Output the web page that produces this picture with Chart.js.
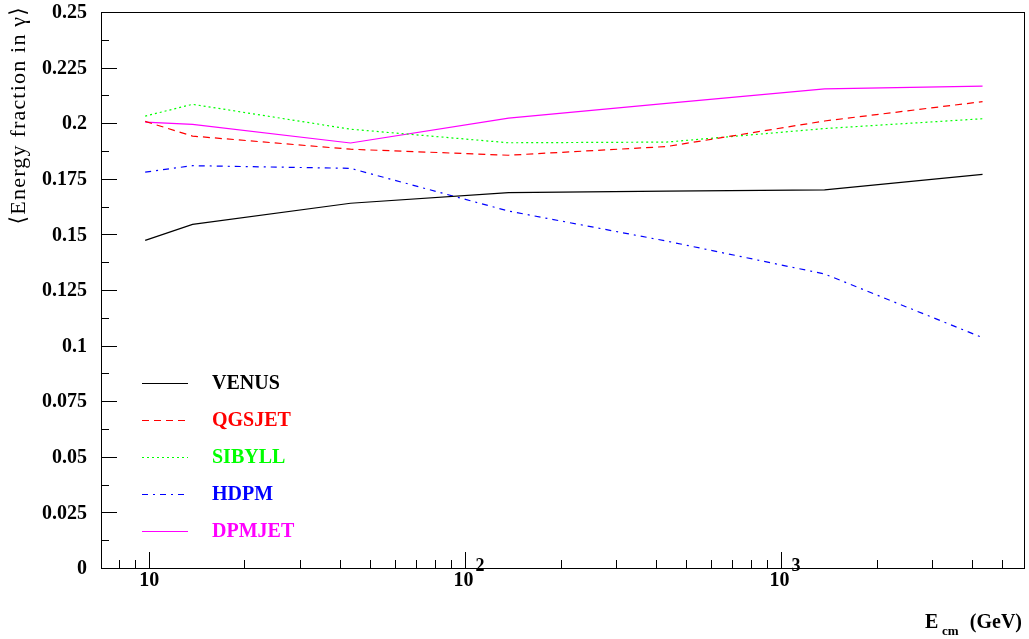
<!DOCTYPE html>
<html>
<head>
<meta charset="utf-8">
<script src="https://cdn.jsdelivr.net/npm/chart.js@4.4.0/dist/chart.umd.min.js"></script>
<style>
    html, body { margin: 0; padding: 0; background: #fff; }
    #wrap { width: 1029px; height: 639px; position: relative; }
</style>
</head>
<body>
<div id="wrap"><canvas id="energyChart"></canvas></div>
<script>
// centre-of-mass energies (GeV)
const ENERGY = [9.7, 13.7, 43.3, 137, 433, 1370, 4330];

// mean energy fraction in photons, per model
const VENUS  = [0.1473, 0.1545, 0.1640, 0.1688, 0.1695, 0.1700, 0.1770];
const QGSJET = [0.2008, 0.1942, 0.1883, 0.1856, 0.1895, 0.2010, 0.2097];
const SIBYLL = [0.2032, 0.2085, 0.1973, 0.1912, 0.1915, 0.1976, 0.2020];
const HDPM   = [0.1780, 0.1809, 0.1797, 0.1605, 0.1470, 0.1322, 0.1036];
const DPMJET = [0.2005, 0.1995, 0.1911, 0.2023, 0.2089, 0.2154, 0.2167];

const MODEL_NAMES = ['VENUS', 'QGSJET', 'SIBYLL', 'HDPM', 'DPMJET'];

// tick labels
const Y_TICK_LABELS = ['0', '0.025', '0.05', '0.075', '0.1', '0.125', '0.15', '0.175', '0.2', '0.225', '0.25'];
const X_TICK_VALUES = [10, 100, 1000];
const X_TICK_LABELS = [['10', ''], ['10', '2'], ['10', '3']];
const X_MINOR_TICKS = [8, 9, 20, 30, 40, 50, 60, 70, 80, 90, 200, 300, 400, 500, 600, 700, 800, 900, 2000, 3000, 4000, 5000];

const SERIF = '"Liberation Serif", "DejaVu Serif", serif';

const styles = [
    { color: '#000000', dash: [] },
    { color: '#ff0000', dash: [7, 5] },
    { color: '#00ff00', dash: [2, 3] },
    { color: '#0000ff', dash: [6, 5, 2, 5] },
    { color: '#ff00ff', dash: [] }
];
const seriesData = [VENUS, QGSJET, SIBYLL, HDPM, DPMJET];

const datasets = MODEL_NAMES.map((name, i) => ({
    label: name,
    data: ENERGY.map((e, j) => ({ x: e, y: seriesData[i][j] })),
    borderColor: styles[i].color,
    borderDash: styles[i].dash,
    borderWidth: 1.2,
    pointRadius: 0,
    tension: 0,
    fill: false
}));

// frame, ticks, labels, titles and legend drawn by hand (ROOT look)
const rootAxes = {
    id: 'rootAxes',
    afterDraw(chart) {
        const { ctx, chartArea: a } = chart;
        const xs = chart.scales.x, ys = chart.scales.y;
        ctx.save();
        ctx.strokeStyle = '#000';
        ctx.lineWidth = 1;
        ctx.setLineDash([]);
        ctx.strokeRect(a.left + 0.5, a.top + 0.5, a.right - a.left - 1, a.bottom - a.top);

        // y ticks every 0.0125, long ones at labels
        ctx.beginPath();
        for (let k = 0; k <= 20; k++) {
            const y = Math.round(ys.getPixelForValue(k * 0.0125)) + 0.5;
            const len = k % 2 === 0 ? 16 : 8;
            ctx.moveTo(a.left, y);
            ctx.lineTo(a.left + len, y);
        }
        // x ticks
        X_TICK_VALUES.forEach(v => {
            const x = Math.round(xs.getPixelForValue(v)) + 0.5;
            ctx.moveTo(x, a.bottom);
            ctx.lineTo(x, a.bottom - 16);
        });
        X_MINOR_TICKS.forEach(v => {
            const x = Math.round(xs.getPixelForValue(v)) + 0.5;
            ctx.moveTo(x, a.bottom);
            ctx.lineTo(x, a.bottom - 8);
        });
        ctx.stroke();

        ctx.fillStyle = '#000';
        ctx.font = 'bold 20px ' + SERIF;
        ctx.textAlign = 'right';
        ctx.textBaseline = 'middle';
        Y_TICK_LABELS.forEach(t => {
            ctx.fillText(t, 87, ys.getPixelForValue(parseFloat(t)) + 1);
        });

        // x labels with superscript exponent
        ctx.textAlign = 'left';
        ctx.textBaseline = 'alphabetic';
        X_TICK_VALUES.forEach((v, i) => {
            const x = xs.getPixelForValue(v);
            const [base, exp] = X_TICK_LABELS[i];
            ctx.font = 'bold 20px ' + SERIF;
            const bw = ctx.measureText(base).width;
            const x0 = exp ? x - bw / 2 - 2 : x - bw / 2;
            ctx.fillText(base, x0, 586);
            if (exp) {
                ctx.font = 'bold 18px ' + SERIF;
                ctx.fillText(exp, x0 + bw + 2, 571);
            }
        });

        // x title: E_cm (GeV)
        ctx.font = 'bold 20px ' + SERIF;
        ctx.textAlign = 'right';
        ctx.fillText('(GeV)', 1022, 628);
        ctx.textAlign = 'left';
        ctx.fillText('E', 925, 628);
        ctx.font = 'bold 13px ' + SERIF;
        ctx.fillText('cm', 942, 635);

        // y title, rotated, flush to top
        ctx.save();
        ctx.translate(19, 6);
        ctx.rotate(-Math.PI / 2);
        ctx.font = '22px ' + SERIF;
        if ('letterSpacing' in ctx) ctx.letterSpacing = '1.2px';
        ctx.textAlign = 'right';
        ctx.textBaseline = 'middle';
        ctx.fillText('\u27E8Energy fraction in \u03B3\u27E9', 0, 0);
        ctx.restore();

        // legend
        const rows = [383, 420, 457, 494, 531];
        chart.data.datasets.forEach((ds, i) => {
            const y = rows[i] + 0.5;
            ctx.strokeStyle = ds.borderColor;
            ctx.setLineDash(ds.borderDash);
            ctx.lineWidth = 1.2;
            ctx.beginPath();
            ctx.moveTo(142, y);
            ctx.lineTo(188, y);
            ctx.stroke();
            ctx.setLineDash([]);
            ctx.fillStyle = ds.borderColor;
            ctx.font = 'bold 20px ' + SERIF;
            ctx.textAlign = 'left';
            ctx.textBaseline = 'middle';
            ctx.fillText(ds.label, 212, rows[i] + 1);
        });
        ctx.restore();
    }
};

new Chart(document.getElementById('energyChart'), {
    type: 'line',
    data: { datasets },
    options: {
        responsive: true,
        maintainAspectRatio: false,
        animation: false,
        layout: { padding: { left: 101, top: 12, right: 4, bottom: 71 } },
        plugins: {
            legend: { display: false },
            tooltip: { enabled: false }
        },
        scales: {
            x: { type: 'logarithmic', min: 7.03, max: 5900, display: false },
            y: { type: 'linear', min: 0, max: 0.25, display: false }
        }
    },
    plugins: [rootAxes]
});
</script>
</body>
</html>
